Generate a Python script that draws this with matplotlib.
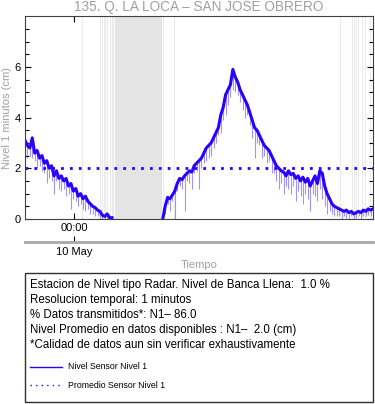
import numpy as np
import pandas as pd
import matplotlib
matplotlib.use("Agg")
import matplotlib.pyplot as plt
import matplotlib.dates as mdates
from matplotlib.lines import Line2D
from matplotlib.patches import Rectangle

plt.rcParams['font.family'] = ['Liberation Sans', 'DejaVu Sans']

# nivel cada 10 minutos (cm)
start = pd.Timestamp("2023-05-09 20:37")
nan = np.nan
nivel = [3.1, 2.9, 2.8, 3.2, 2.6, 2.7, 2.4, 2.5, 2.2, 2.3,
         2.0, 2.1, 1.7, 1.9, 1.6, 1.7, 1.5, 1.6, 1.3, 1.4,
         1.1, 1.2, 0.9, 1.0, 0.8, 0.9, 0.7, 0.6, 0.5, 0.45,
         0.35, 0.3, 0.15, 0.1, 0.2, 0.05, 0.05, nan, nan, nan,
         nan, nan, nan, nan, nan, nan, nan, nan, nan, nan,
         nan, nan, nan, nan, nan, nan, nan, 0.0, 0.5, 0.85,
         0.8, 0.95, 1.1, 1.4, 1.6, 1.55, 1.7, 1.8, 1.9, 1.85,
         2.1, 2.2, 2.3, 2.4, 2.6, 2.8, 2.9, 3.0, 3.2, 3.4,
         3.6, 4.1, 4.4, 4.9, 5.1, 5.3, 5.9, 5.6, 5.4, 5.1,
         4.9, 4.7, 4.5, 4.2, 3.9, 3.6, 3.5, 3.3, 3.1, 2.9,
         2.8, 2.7, 2.5, 2.3, 2.1, 2.0, 1.9, 1.85, 1.7, 1.9,
         1.75, 1.8, 1.6, 1.7, 1.5, 1.65, 1.45, 1.6, 1.3, 1.5,
         1.7, 1.4, 1.9, 1.8, 1.3, 1.0, 0.8, 0.6, 0.5, 0.45,
         0.4, 0.35, 0.3, 0.35, 0.25, 0.3, 0.2, 0.25, 0.3, 0.25,
         0.35, 0.3, 0.4, 0.35, 0.4]
# minimo de cada intervalo de 10 min (picos hacia abajo)
bajo = [2.7, 2.4, 2.5, 2.4, 2.3, 2.0, 2.1, 1.9, 1.8, 1.4,
        1.6, 1.5, 1.0, 1.5, 1.2, 1.1, 1.2, 0.9, 1.0, 0.4,
        0.8, 0.7, 0.5, 0.6, 0.4, 0.3, 0.4, 0.2, 0.2, 0.1,
        0.1, 0.0, 0.0, 0.0, 0.0, 0.0, 0.0, nan, nan, nan,
        nan, nan, nan, nan, nan, nan, nan, nan, nan, nan,
        nan, nan, nan, nan, nan, nan, nan, 0.0, 0.2, 0.6,
        0.3, 0.7, 0.0, 1.1, 1.3, 1.2, 0.3, 1.5, 1.4, 1.2,
        1.8, 1.9, 1.2, 2.0, 2.2, 2.3, 2.4, 2.5, 2.8, 3.0,
        3.3, 3.4, 3.9, 4.1, 4.5, 4.8, 5.1, 5.0, 4.9, 4.6,
        4.3, 4.0, 4.1, 3.7, 3.2, 2.4, 3.0, 2.9, 2.4, 2.5,
        2.2, 2.3, 1.8, 1.8, 1.5, 1.2, 1.4, 1.0, 1.3, 1.2,
        1.0, 1.3, 0.7, 1.1, 0.9, 0.6, 1.0, 0.8, 0.3, 1.0,
        0.9, 0.7, 1.2, 0.8, 0.5, 0.2, 0.3, 0.2, 0.1, 0.1,
        0.1, 0.0, 0.1, 0.05, 0.0, 0.1, 0.0, 0.05, 0.1, 0.0,
        0.1, 0.1, 0.15, 0.1, 0.2]
promedio = 2.0

# minutos sin datos (desde el inicio)
gaps_ini = [236, 310, 318, 325, 333, 340, 350, 358, 365, 372, 571, 616, 1303, 1353, 1360, 1368, 1376, 1394, 1407, 1428]
gaps_fin = [237, 311, 319, 326, 334, 341, 351, 359, 366, 567, 572, 617, 1304, 1355, 1362, 1370, 1378, 1395, 1408, 1429]

t = pd.date_range(start, periods=len(nivel), freq="10min")

fig = plt.figure(figsize=(3.75, 4.04), dpi=100)
ax = fig.add_axes([0.0667, 0.458, 0.928, 0.502])

for a, b in zip(gaps_ini, gaps_fin):
    if b - a > 30:
        ax.axvspan(start + pd.Timedelta(minutes=a), start + pd.Timedelta(minutes=b),
                   fc='#e4e4e4', lw=0, zorder=0)
    else:
        ax.axvline(start + pd.Timedelta(minutes=a), color='#ebebeb', lw=0.8, zorder=0)

ax.vlines(t, bajo, nivel, color='#7a66ff', lw=0.8, alpha=0.7, zorder=1)
ax.plot(t, nivel, color='#2a00ff', lw=2.2, zorder=2)
ax.axhline(promedio, color='#2a00ff', ls=(0, (1, 2.2)), lw=2, zorder=3)

ax.set_xlim(start, start + pd.Timedelta(minutes=1440))
ax.set_ylim(0, 8)
ax.set_yticks([0, 2, 4, 6])
ax.set_yticks(np.arange(0, 8, 0.5), minor=True)
ax.xaxis.set_major_locator(mdates.DayLocator())
ax.xaxis.set_major_formatter(mdates.DateFormatter('%H:%M'))
ax.tick_params(direction='in', top=True, right=True, labelsize=8, length=4, width=0.8, pad=3)
ax.tick_params(which='minor', direction='in', right=True, length=3, width=0.8)
ax.set_ylabel("Nivel 1 minutos (cm)", color='#a0a0a0', fontsize=8)
ax.yaxis.set_label_coords(-0.037, 0.5)
for s in ax.spines.values():
    s.set_color('#404040')
    s.set_linewidth(0.8)
ax.set_title("135. Q. LA LOCA \u2013 SAN JOSE OBRERO", color='#a0a0a0', fontsize=9.8, pad=4)

sec = ax.secondary_xaxis(-0.112)
sec.xaxis.set_major_locator(mdates.DayLocator())
sec.xaxis.set_major_formatter(mdates.DateFormatter('%d %b'))
sec.tick_params(direction='in', labelsize=8, length=4, width=0.8, pad=4)
sec.spines['bottom'].set_color('#a8a8a8')
sec.spines['bottom'].set_linewidth(2)
sec.set_xlabel("Tiempo", color='#a0a0a0', fontsize=8, labelpad=2)

# caja de informacion
W, H = 375, 404
fig.patches.append(Rectangle((25 / W, 1 - 401.5 / H), 348 / W, 129 / H, transform=fig.transFigure,
                             fill=False, ec='#303030', lw=1))
lineas = ["Estacion de Nivel tipo Radar. Nivel de Banca Llena:  1.0 %",
          "Resolucion temporal: 1 minutos",
          "% Datos transmitidos*: N1\u2013 86.0",
          "Nivel Promedio en datos disponibles : N1\u2013  2.0 (cm)",
          "*Calidad de datos aun sin verificar exhaustivamente"]
for i, txt in enumerate(lineas):
    fig.text(29.5 / W, 1 - (285 + 15 * i) / H, txt, fontsize=8.3, va='center')
fig.add_artist(Line2D([30 / W, 62 / W], [1 - 366.5 / H] * 2, color='#2a00ff', lw=1))
fig.text(68 / W, 1 - 366.5 / H, "Nivel Sensor Nivel 1", fontsize=6.3, va='center')
fig.add_artist(Line2D([30 / W, 62 / W], [1 - 385 / H] * 2, color='#2a00ff', lw=1, ls=(0, (1, 3))))
fig.text(68 / W, 1 - 385 / H, "Promedio Sensor Nivel 1", fontsize=6.3, va='center')

fig.savefig("out.png", dpi=100)
